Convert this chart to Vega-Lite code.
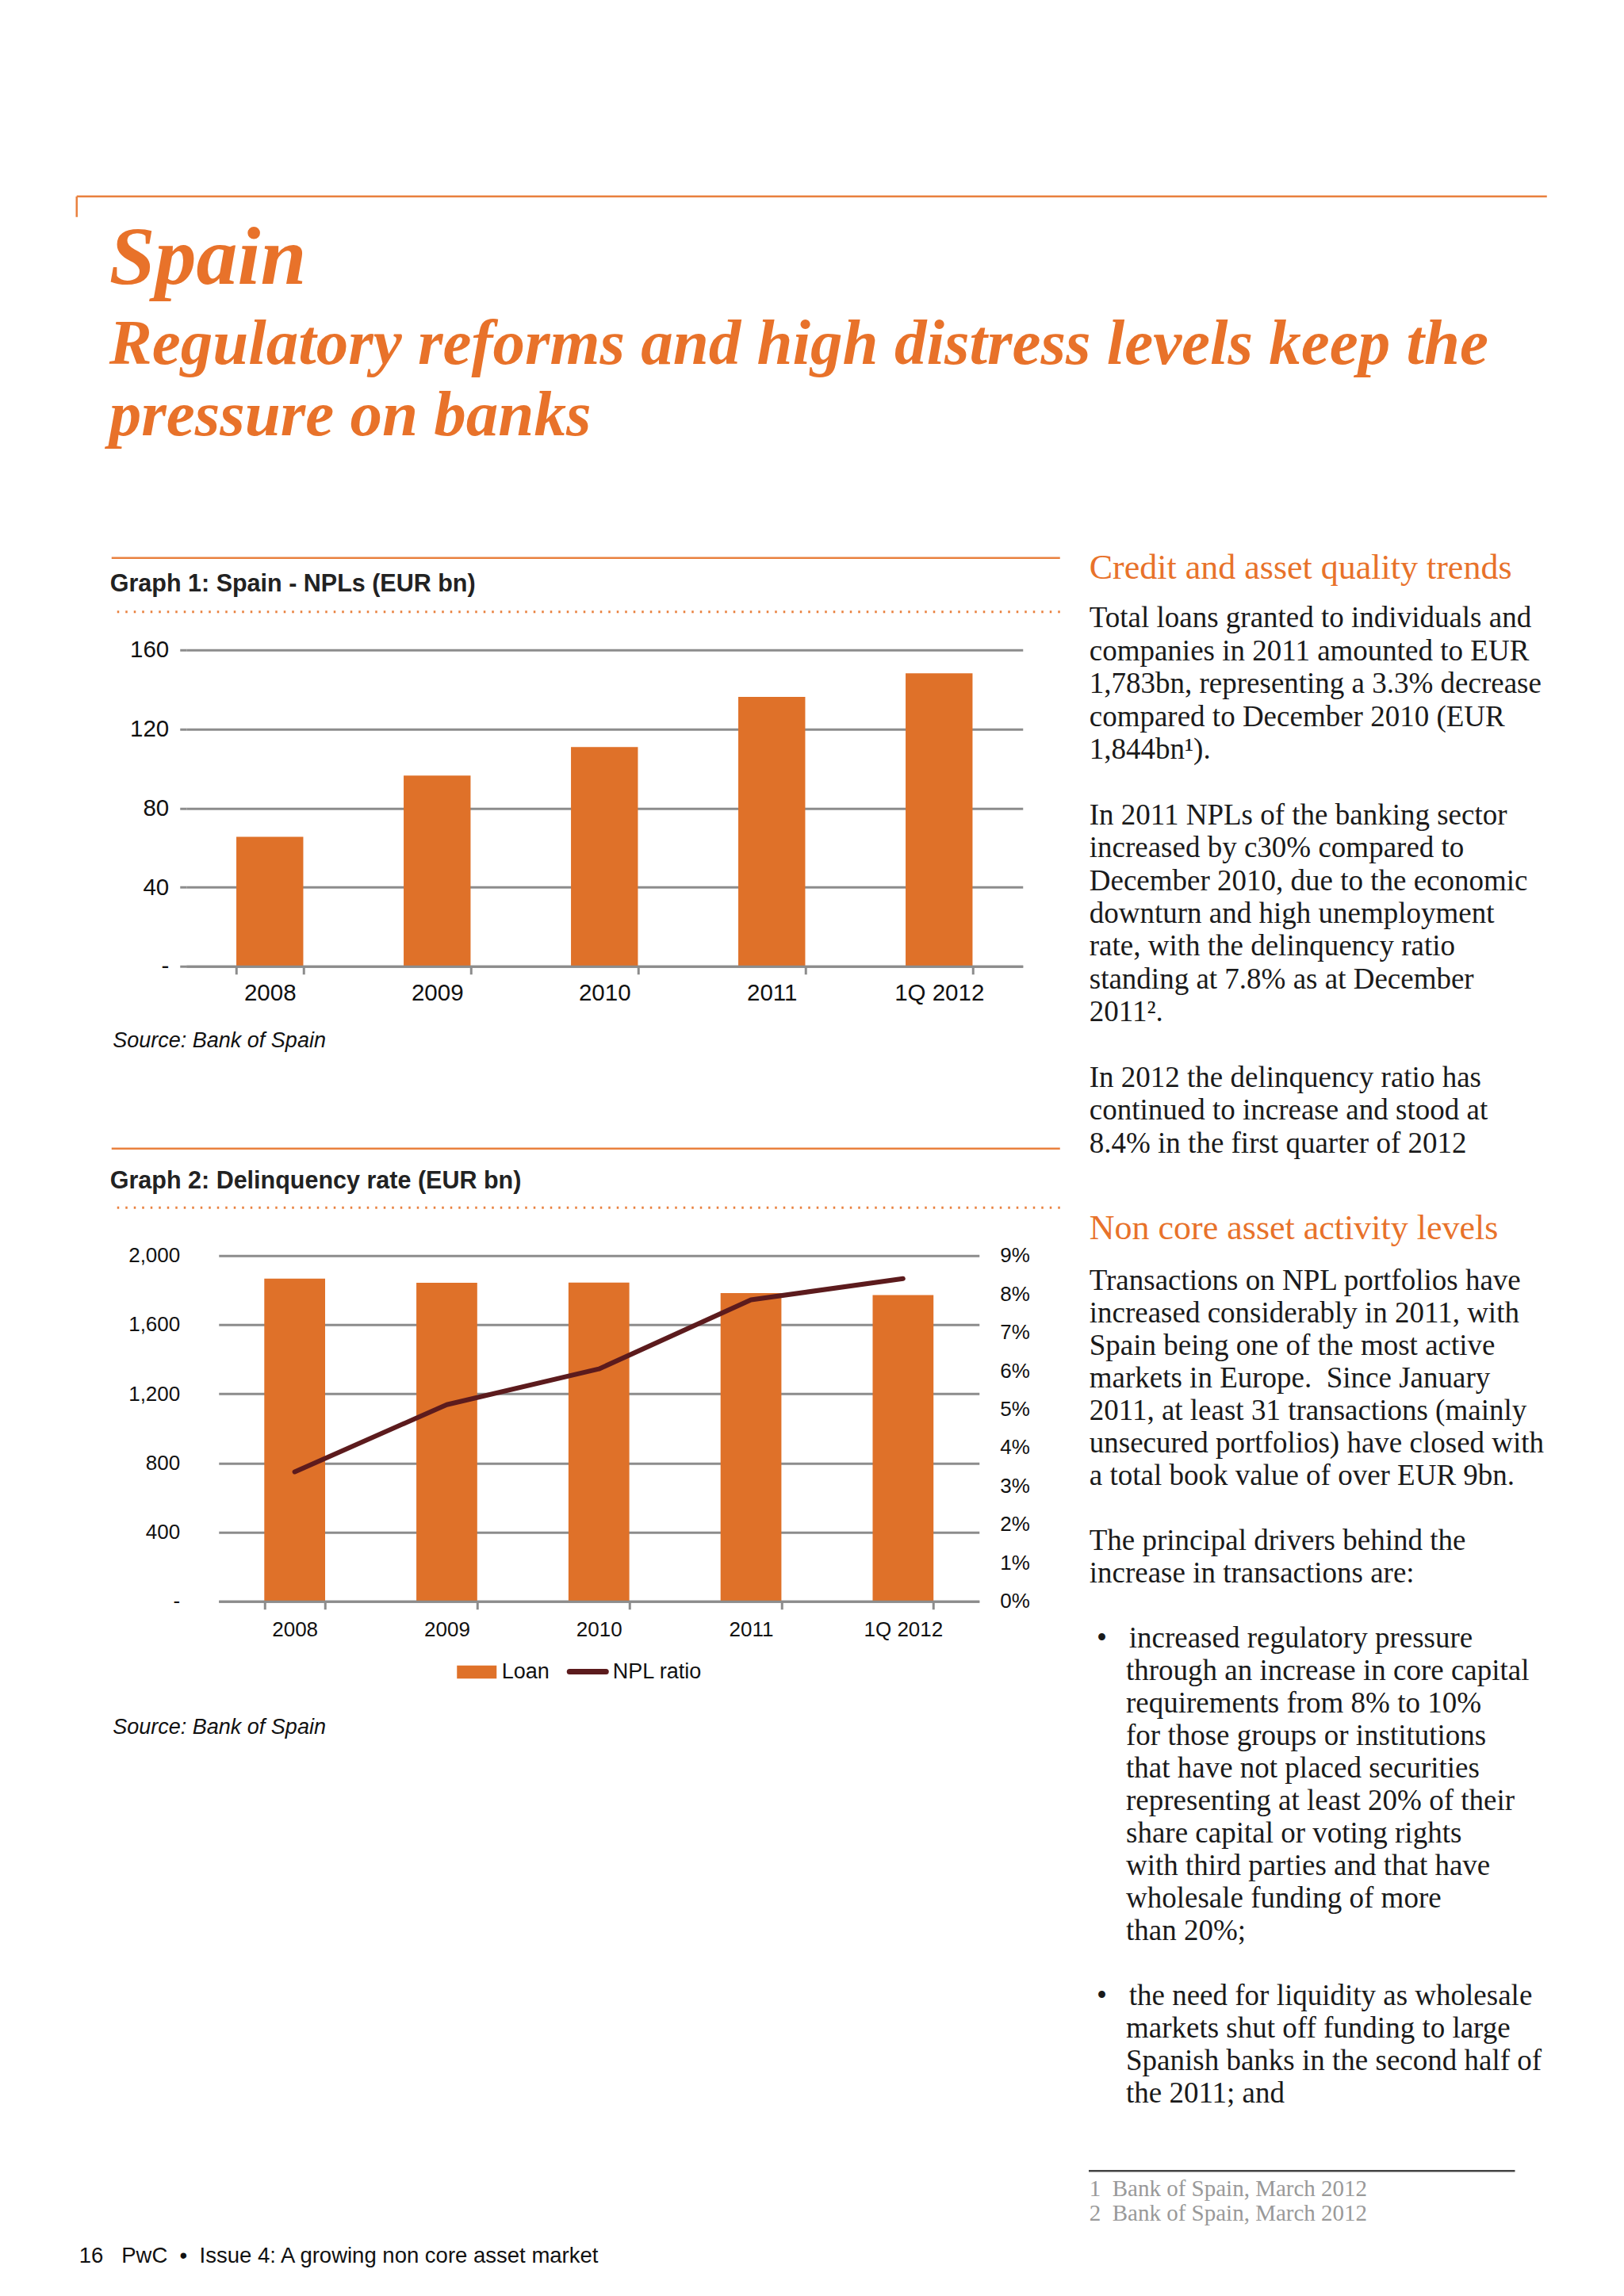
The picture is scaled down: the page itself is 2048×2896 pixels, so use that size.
{
  "$schema": "https://vega.github.io/schema/vega-lite/v6.json",
  "background": "white",
  "padding": {"left": 94.75, "top": 245.75, "right": 0, "bottom": 0},
  "config": {
    "view": {"stroke": null},
    "font": "Liberation Sans",
    "axis": {"labelFont": "Liberation Sans", "titleFont": "Liberation Sans"},
    "legend": {"labelFont": "Liberation Sans"}
  },
  "resolve": {"scale": {"color": "independent"}},
  "spacing": 0,
  "vconcat": [
    {
      "width": 1854,
      "height": 445.5,
      "data": {"values": [{}]},
      "title": {
        "text": "Spain",
        "subtitle": ["Regulatory reforms and high distress levels keep the", "pressure on banks"],
        "orient": "top", "anchor": "start", "frame": "group", "offset": -319.25, "dx": 41,
        "font": "Liberation Serif", "fontSize": 104, "fontStyle": "italic", "fontWeight": "bold", "color": "#e8722a",
        "subtitleFont": "Liberation Serif", "subtitleFontSize": 81, "subtitleFontStyle": "italic", "subtitleFontWeight": "bold",
        "subtitleColor": "#e8722a", "subtitleLineHeight": 90, "subtitlePadding": 15
      },
      "layer": [
        {
          "mark": {"type": "rule", "color": "#e9813f", "strokeWidth": 2.5},
          "encoding": {"y": {"datum": 1, "type": "quantitative", "scale": {"domain": [0, 1]}, "axis": null}}
        },
        {
          "mark": {"type": "rule", "color": "#e9813f", "strokeWidth": 2.5},
          "encoding": {
            "x": {"datum": 0, "type": "quantitative", "scale": {"domain": [0, 1]}, "axis": null},
            "y": {"datum": 1, "type": "quantitative"},
            "y2": {"datum": 0.9416}
          }
        }
      ]
    },
    {
      "spacing": 34,
      "resolve": {"scale": {"color": "independent"}},
      "hconcat": [
        {"width": 8, "height": 1, "data": {"values": []}, "mark": "point", "encoding": {}},
        {
          "spacing": 0,
          "resolve": {"scale": {"color": "independent"}},
          "vconcat": [
            {"width": 1, "height": 7.75, "data": {"values": []}, "mark": "point", "encoding": {}},
            {
              "width": 1196,
              "height": 101,
              "data": {"values": [{}]},
              "title": {
                "text": "Graph 1: Spain - NPLs (EUR bn)",
                "orient": "top", "anchor": "start", "frame": "group", "offset": -49.5, "dx": -2,
                "font": "Liberation Sans", "fontSize": 30.5, "fontWeight": "bold", "color": "#222222"
              },
              "layer": [
                {
                  "mark": {"type": "rule", "color": "#e9813f", "strokeWidth": 2.5},
                  "encoding": {"y": {"datum": 1, "type": "quantitative", "scale": {"domain": [0, 1]}, "axis": null}}
                },
                {
                  "mark": {"type": "rule", "color": "#e9813f", "strokeWidth": 3, "strokeDash": [2.5, 8]},
                  "encoding": {"y": {"datum": 0.3267, "type": "quantitative"}}
                }
              ]
            },
            {
              "spacing": 0,
              "hconcat": [
                {"width": 1, "height": 1, "data": {"values": []}, "mark": "point", "encoding": {}},
                {
                  "width": 1055,
                  "height": 399,
                  "data": {"values": [
                    {"period": "2008", "npl": 65.5},
                    {"period": "2009", "npl": 96.4},
                    {"period": "2010", "npl": 110.9},
                    {"period": "2011", "npl": 136.2},
                    {"period": "1Q 2012", "npl": 148.2}
                  ]},
                  "mark": {"type": "bar", "color": "#df7129"},
                  "encoding": {
                    "x": {
                      "field": "period", "type": "nominal", "sort": null,
                      "scale": {"paddingInner": 0.6, "paddingOuter": 0.3},
                      "axis": {
                        "title": "Source: Bank of Spain", "titleX": -93, "titleY": 102, "titleAlign": "left",
                        "titleBaseline": "alphabetic", "titleFontStyle": "italic", "titleFontWeight": "normal",
                        "titleFontSize": 27, "titleColor": "#111111",
                        "labelAngle": 0, "labelFontSize": 29.5, "labelColor": "#111111", "labelPadding": 10,
                        "tickBand": "extent", "tickSize": 10, "tickWidth": 3, "tickColor": "#8c8c8c",
                        "domainColor": "#8c8c8c", "domainWidth": 3, "grid": false, "zindex": 1
                      }
                    },
                    "y": {
                      "field": "npl", "type": "quantitative",
                      "scale": {"domain": [0, 160], "nice": false},
                      "axis": {
                        "title": null, "values": [0, 40, 80, 120, 160],
                        "grid": true, "gridColor": "#8c8c8c", "gridWidth": 3,
                        "domain": false, "ticks": true, "tickSize": 8, "tickWidth": 3, "tickColor": "#8c8c8c",
                        "labelPadding": 14, "labelFontSize": 29.5, "labelColor": "#111111",
                        "labelExpr": "datum.value === 0 ? '-' : datum.label"
                      }
                    }
                  }
                }
              ]
            },
            {"width": 1, "height": 120.75, "data": {"values": []}, "mark": "point", "encoding": {}},
            {
              "width": 1196,
              "height": 122,
              "data": {"values": [{}]},
              "title": {
                "text": "Graph 2: Delinquency rate (EUR bn)",
                "orient": "top", "anchor": "start", "frame": "group", "offset": -57.5, "dx": -2,
                "font": "Liberation Sans", "fontSize": 30.5, "fontWeight": "bold", "color": "#222222"
              },
              "layer": [
                {
                  "mark": {"type": "rule", "color": "#e9813f", "strokeWidth": 2.5},
                  "encoding": {"y": {"datum": 1, "type": "quantitative", "scale": {"domain": [0, 1]}, "axis": null}}
                },
                {
                  "mark": {"type": "rule", "color": "#e9813f", "strokeWidth": 3, "strokeDash": [2.5, 8]},
                  "encoding": {"y": {"datum": 0.3885, "type": "quantitative"}}
                }
              ]
            },
            {
              "spacing": 0,
              "resolve": {"scale": {"color": "independent"}},
              "hconcat": [
                {"width": 1, "height": 1, "data": {"values": []}, "mark": "point", "encoding": {}},
                {
                  "width": 959,
                  "height": 436,
                  "data": {"values": [
                    {"period": "2008", "loan": 1867, "npl": 0.0337},
                    {"period": "2009", "loan": 1843, "npl": 0.0512},
                    {"period": "2010", "loan": 1844, "npl": 0.0605},
                    {"period": "2011", "loan": 1783, "npl": 0.0785},
                    {"period": "1Q 2012", "loan": 1772, "npl": 0.084}
                  ]},
                  "encoding": {
                    "x": {
                      "field": "period", "type": "nominal", "sort": null,
                      "scale": {"paddingInner": 0.6, "paddingOuter": 0.3},
                      "axis": {
                        "title": "Source: Bank of Spain", "titleX": -134, "titleY": 166.7, "titleAlign": "left",
                        "titleBaseline": "alphabetic", "titleFontStyle": "italic", "titleFontWeight": "normal",
                        "titleFontSize": 27, "titleColor": "#111111",
                        "labelAngle": 0, "labelFontSize": 26, "labelColor": "#111111", "labelPadding": 13,
                        "tickBand": "extent", "tickSize": 10, "tickWidth": 3, "tickColor": "#8c8c8c",
                        "domainColor": "#8c8c8c", "domainWidth": 3, "grid": false, "zindex": 1
                      }
                    }
                  },
                  "layer": [
                    {
                      "mark": {"type": "bar"},
                      "encoding": {
                        "y": {
                          "field": "loan", "type": "quantitative",
                          "scale": {"domain": [0, 2000], "nice": false},
                          "axis": {
                            "title": null, "orient": "left", "values": [0, 400, 800, 1200, 1600, 2000], "format": ",.0f",
                            "grid": true, "gridColor": "#8c8c8c", "gridWidth": 3,
                            "domain": false, "ticks": false, "tickSize": 0,
                            "labelPadding": 49, "labelFontSize": 26, "labelColor": "#111111",
                            "labelExpr": "datum.value === 0 ? '-' : datum.label"
                          }
                        },
                        "color": {
                          "datum": "Loan",
                          "scale": {"domain": ["Loan", "NPL ratio"], "range": ["#df7129", "#5c1b1d"]},
                          "legend": {
                            "orient": "none", "legendX": 312, "legendY": 511, "direction": "horizontal", "title": null,
                            "symbolSize": 2500, "labelFontSize": 27, "labelColor": "#111111", "labelOffset": 18,
                            "columnPadding": 10,
                            "encode": {
                              "symbols": {
                                "update": {
                                  "shape": {"signal": "datum.value === 'Loan' ? 'M-1,-0.332H1V0.332H-1Z' : 'M-0.92,0H0.92'"},
                                  "fill": {"signal": "datum.value === 'Loan' ? '#df7129' : 'transparent'"},
                                  "stroke": {"signal": "datum.value === 'Loan' ? 'transparent' : '#5c1b1d'"},
                                  "strokeWidth": {"signal": "datum.value === 'Loan' ? 0 : 7"},
                                  "strokeCap": {"value": "round"},
                                  "size": {"value": 2500},
                                  "opacity": {"value": 1}
                                }
                              }
                            }
                          }
                        }
                      }
                    },
                    {
                      "mark": {"type": "line", "strokeWidth": 6, "strokeJoin": "round", "strokeCap": "round"},
                      "encoding": {
                        "y": {
                          "field": "npl", "type": "quantitative",
                          "scale": {"domain": [0, 0.09], "nice": false},
                          "axis": {
                            "title": null, "orient": "right",
                            "values": [0, 0.01, 0.02, 0.03, 0.04, 0.05, 0.06, 0.07, 0.08, 0.09], "format": ".0%",
                            "grid": false, "domain": false, "ticks": false, "tickSize": 0,
                            "labelPadding": 26, "labelFontSize": 26, "labelColor": "#111111"
                          }
                        },
                        "color": {"datum": "NPL ratio"}
                      }
                    }
                  ],
                  "resolve": {"scale": {"y": "independent"}}
                }
              ]
            }
          ]
        },
        {
          "spacing": 0,
          "vconcat": [
            {"width": 1, "height": 1, "data": {"values": []}, "mark": "point", "encoding": {}},
            {
              "width": 560,
              "height": 66.6,
              "data": {"values": []},
              "mark": "point",
              "encoding": {},
              "title": {
                "text": "Credit and asset quality trends",
                "subtitle": [
                  "Total loans granted to individuals and",
                  "companies in 2011 amounted to EUR",
                  "1,783bn, representing a 3.3% decrease",
                  "compared to December 2010 (EUR",
                  "1,844bn¹).",
                  "\u200b",
                  "In 2011 NPLs of the banking sector",
                  "increased by c30% compared to",
                  "December 2010, due to the economic",
                  "downturn and high unemployment",
                  "rate, with the delinquency ratio",
                  "standing at 7.8% as at December",
                  "2011².",
                  "\u200b",
                  "In 2012 the delinquency ratio has",
                  "continued to increase and stood at",
                  "8.4% in the first quarter of 2012"
                ],
                "orient": "top", "anchor": "start", "frame": "group", "offset": 0,
                "font": "Liberation Serif", "fontSize": 44, "fontWeight": "normal", "color": "#e8722a",
                "subtitleFont": "Liberation Serif", "subtitleFontSize": 37, "subtitleColor": "#1a1a1a",
                "subtitleLineHeight": 41.4, "subtitlePadding": 23.5
              }
            },
            {
              "width": 560,
              "height": 77.75,
              "data": {"values": []},
              "mark": "point",
              "encoding": {},
              "title": {
                "text": "Non core asset activity levels",
                "subtitle": [
                  "Transactions on NPL portfolios have",
                  "increased considerably in 2011, with",
                  "Spain being one of the most active",
                  "markets in Europe.\u00a0 Since January",
                  "2011, at least 31 transactions (mainly",
                  "unsecured portfolios) have closed with",
                  "a total book value of over EUR 9bn.",
                  "\u200b",
                  "The principal drivers behind the",
                  "increase in transactions are:",
                  "\u200b",
                  "\u200b\u00a0•\u00a0\u00a0\u00a0increased regulatory pressure",
                  "\u200b\u00a0\u00a0\u00a0\u00a0\u00a0through an increase in core capital",
                  "\u200b\u00a0\u00a0\u00a0\u00a0\u00a0requirements from 8% to 10%",
                  "\u200b\u00a0\u00a0\u00a0\u00a0\u00a0for those groups or institutions",
                  "\u200b\u00a0\u00a0\u00a0\u00a0\u00a0that have not placed securities",
                  "\u200b\u00a0\u00a0\u00a0\u00a0\u00a0representing at least 20% of their",
                  "\u200b\u00a0\u00a0\u00a0\u00a0\u00a0share capital or voting rights",
                  "\u200b\u00a0\u00a0\u00a0\u00a0\u00a0with third parties and that have",
                  "\u200b\u00a0\u00a0\u00a0\u00a0\u00a0wholesale funding of more",
                  "\u200b\u00a0\u00a0\u00a0\u00a0\u00a0than 20%;",
                  "\u200b",
                  "\u200b\u00a0•\u00a0\u00a0\u00a0the need for liquidity as wholesale",
                  "\u200b\u00a0\u00a0\u00a0\u00a0\u00a0markets shut off funding to large",
                  "\u200b\u00a0\u00a0\u00a0\u00a0\u00a0Spanish banks in the second half of",
                  "\u200b\u00a0\u00a0\u00a0\u00a0\u00a0the 2011; and"
                ],
                "orient": "top", "anchor": "start", "frame": "group", "offset": 0,
                "font": "Liberation Serif", "fontSize": 44, "fontWeight": "normal", "color": "#e8722a",
                "subtitleFont": "Liberation Serif", "subtitleFontSize": 37, "subtitleColor": "#1a1a1a",
                "subtitleLineHeight": 41, "subtitlePadding": 26
              }
            },
            {
              "width": 536,
              "height": 1,
              "view": {"stroke": "#444444", "strokeWidth": 1.5},
              "data": {"values": []},
              "mark": "point",
              "encoding": {},
              "title": {
                "text": ["1\u00a0\u00a0Bank of Spain, March 2012", "2\u00a0\u00a0Bank of Spain, March 2012"],
                "orient": "bottom", "anchor": "start", "frame": "group", "offset": 8.5,
                "font": "Liberation Serif", "fontSize": 29, "fontWeight": "normal", "color": "#999999",
                "lineHeight": 31
              }
            }
          ]
        }
      ]
    },
    {
      "width": 1,
      "height": 23,
      "data": {"values": []},
      "mark": "point",
      "encoding": {},
      "title": {
        "text": "16\u00a0\u00a0\u00a0PwC\u00a0\u00a0•\u00a0\u00a0Issue 4: A growing non core asset market",
        "orient": "bottom", "anchor": "start", "frame": "group", "offset": 0, "dx": 3,
        "font": "Liberation Sans", "fontSize": 27.5, "fontWeight": "normal", "color": "#111111"
      }
    }
  ]
}
